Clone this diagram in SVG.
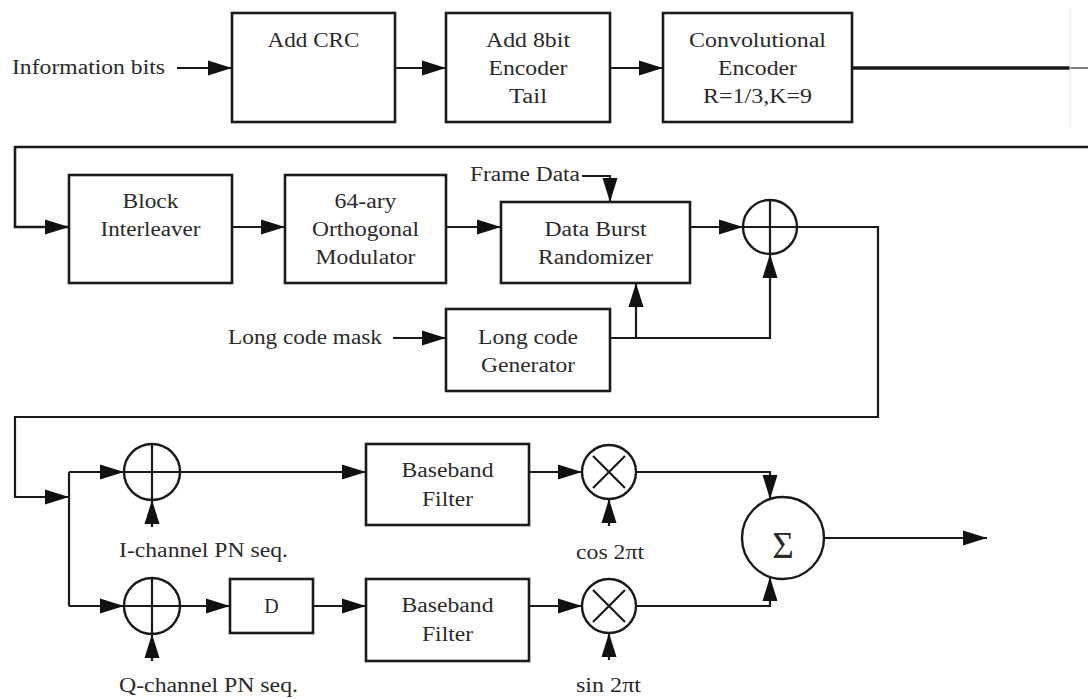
<svg xmlns="http://www.w3.org/2000/svg" width="1088" height="699" viewBox="0 0 1088 699">
<style>
.box{fill:#fff;stroke:#1a1a1a;stroke-width:2.6}
.cir{fill:#fff;stroke:#1a1a1a;stroke-width:2.4}
.ln{fill:none;stroke:#1a1a1a;stroke-width:2.2}
.t{font-family:"Liberation Serif","Times New Roman",serif;font-size:20px;fill:#2a2a2a}
.m{text-anchor:middle}
</style>
<defs>
<marker id="ah" markerUnits="userSpaceOnUse" markerWidth="24" markerHeight="16" refX="24" refY="8" orient="auto">
<path d="M0,0.5 L24,8 L0,15.5 z" fill="#111"/>
</marker>
</defs>
<rect width="1088" height="699" fill="#fff"/>

<g id="connectors">
<path class="ln" d="M177,68 H232" marker-end="url(#ah)"/>
<path class="ln" d="M395,68 H446" marker-end="url(#ah)"/>
<path class="ln" d="M610,68 H663" marker-end="url(#ah)"/>
<path class="ln" d="M852,68 H1070" style="stroke-width:3.5"/>
<path class="ln" d="M1070,68 H1088" style="stroke-width:1.5;stroke:#555"/>
<path class="ln" d="M1070,7 V127" style="stroke-width:1;stroke:#e2e2e2"/>
<path class="ln" d="M1088,147 H15 V227 H69" style="stroke-width:2.6" marker-end="url(#ah)"/>
<path class="ln" d="M232,227 H285" marker-end="url(#ah)"/>
<path class="ln" d="M446,227 H501" marker-end="url(#ah)"/>
<path class="ln" d="M582,176 H610 V202" marker-end="url(#ah)"/>
<path class="ln" d="M690,227 H743" marker-end="url(#ah)"/>
<path class="ln" d="M393,338 H446" marker-end="url(#ah)"/>
<path class="ln" d="M610,338 H770 V254" marker-end="url(#ah)"/>
<path class="ln" d="M636,338 V283" marker-end="url(#ah)"/>
<path class="ln" d="M797,227 H878 V417 H15 V497 H69" marker-end="url(#ah)"/>
<path class="ln" d="M69,472 V606"/>
<path class="ln" d="M69,472 H124" marker-end="url(#ah)"/>
<path class="ln" d="M69,606 H124" marker-end="url(#ah)"/>
<path class="ln" d="M152,527 V500" marker-end="url(#ah)"/>
<path class="ln" d="M152,661 V634" marker-end="url(#ah)"/>
<path class="ln" d="M180,472 H366" marker-end="url(#ah)"/>
<path class="ln" d="M180,606 H230" marker-end="url(#ah)"/>
<path class="ln" d="M313,606 H366" marker-end="url(#ah)"/>
<path class="ln" d="M529,472 H582" marker-end="url(#ah)"/>
<path class="ln" d="M529,606 H582" marker-end="url(#ah)"/>
<path class="ln" d="M609,526 V499" marker-end="url(#ah)"/>
<path class="ln" d="M609,660 V633" marker-end="url(#ah)"/>
<path class="ln" d="M636,472 H770 V499" marker-end="url(#ah)"/>
<path class="ln" d="M636,606 H770 V577" marker-end="url(#ah)"/>
<path class="ln" d="M824,538 H987" marker-end="url(#ah)"/>
</g>

<text class="t" x="12" y="74" textLength="153" lengthAdjust="spacingAndGlyphs">Information bits</text>
<text class="t" x="470" y="181" textLength="110" lengthAdjust="spacingAndGlyphs">Frame Data</text>
<text class="t" x="228" y="344" textLength="154" lengthAdjust="spacingAndGlyphs">Long code mask</text>
<text class="t" x="119" y="557" textLength="169" lengthAdjust="spacingAndGlyphs">I-channel PN seq.</text>
<text class="t" x="119" y="692" textLength="179" lengthAdjust="spacingAndGlyphs">Q-channel PN seq.</text>
<text class="t" x="576" y="559" textLength="68" lengthAdjust="spacingAndGlyphs">cos 2πt</text>
<text class="t" x="576" y="692" textLength="65" lengthAdjust="spacingAndGlyphs">sin 2πt</text>

<g id="n-crc">
<rect class="box" x="232" y="13" width="163" height="109"/>
<text class="t m" x="313.5" y="47" textLength="92" lengthAdjust="spacingAndGlyphs">Add CRC</text>
</g>
<g id="n-tail">
<rect class="box" x="446" y="13" width="164" height="109"/>
<text class="t m" x="528" y="47" textLength="84" lengthAdjust="spacingAndGlyphs">Add 8bit</text>
<text class="t m" x="528" y="75" textLength="79" lengthAdjust="spacingAndGlyphs">Encoder</text>
<text class="t m" x="528" y="103" textLength="38" lengthAdjust="spacingAndGlyphs">Tail</text>
</g>
<g id="n-conv">
<rect class="box" x="663" y="13" width="189" height="109"/>
<text class="t m" x="757.5" y="47" textLength="137" lengthAdjust="spacingAndGlyphs">Convolutional</text>
<text class="t m" x="757.5" y="75" textLength="79" lengthAdjust="spacingAndGlyphs">Encoder</text>
<text class="t m" x="757.5" y="103" textLength="109" lengthAdjust="spacingAndGlyphs">R=1/3,K=9</text>
</g>
<g id="n-block">
<rect class="box" x="69" y="175" width="163" height="108"/>
<text class="t m" x="150.5" y="208" textLength="56" lengthAdjust="spacingAndGlyphs">Block</text>
<text class="t m" x="150.5" y="236" textLength="100" lengthAdjust="spacingAndGlyphs">Interleaver</text>
</g>
<g id="n-mod">
<rect class="box" x="285" y="175" width="161" height="108"/>
<text class="t m" x="365.5" y="208" textLength="62" lengthAdjust="spacingAndGlyphs">64-ary</text>
<text class="t m" x="365.5" y="236" textLength="107" lengthAdjust="spacingAndGlyphs">Orthogonal</text>
<text class="t m" x="365.5" y="264" textLength="100" lengthAdjust="spacingAndGlyphs">Modulator</text>
</g>
<g id="n-dbr">
<rect class="box" x="501" y="202" width="189" height="81"/>
<text class="t m" x="595.5" y="236" textLength="102" lengthAdjust="spacingAndGlyphs">Data Burst</text>
<text class="t m" x="595.5" y="264" textLength="115" lengthAdjust="spacingAndGlyphs">Randomizer</text>
</g>
<g id="n-xor">
<circle class="cir" cx="770" cy="227" r="27"/>
<path class="ln" d="M743,227 H797 M770,200 V254"/>
</g>
<g id="n-lcg">
<rect class="box" x="446" y="309" width="164" height="82"/>
<text class="t m" x="528" y="344" textLength="100" lengthAdjust="spacingAndGlyphs">Long code</text>
<text class="t m" x="528" y="372" textLength="94" lengthAdjust="spacingAndGlyphs">Generator</text>
</g>
<g id="n-xor-i">
<circle class="cir" cx="152" cy="472" r="28"/>
<path class="ln" d="M124,472 H180 M152,444 V500"/>
</g>
<g id="n-xor-q">
<circle class="cir" cx="152" cy="606" r="28"/>
<path class="ln" d="M124,606 H180 M152,578 V634"/>
</g>
<g id="n-d">
<rect class="box" x="230" y="579" width="83" height="54"/>
<text class="t m" x="271.5" y="613">D</text>
</g>
<g id="n-bf1">
<rect class="box" x="366" y="444" width="163" height="81"/>
<text class="t m" x="447.5" y="477" textLength="92" lengthAdjust="spacingAndGlyphs">Baseband</text>
<text class="t m" x="447.5" y="506" textLength="51" lengthAdjust="spacingAndGlyphs">Filter</text>
</g>
<g id="n-bf2">
<rect class="box" x="366" y="579" width="163" height="82"/>
<text class="t m" x="447.5" y="612" textLength="92" lengthAdjust="spacingAndGlyphs">Baseband</text>
<text class="t m" x="447.5" y="641" textLength="51" lengthAdjust="spacingAndGlyphs">Filter</text>
</g>
<g id="n-mul-i">
<circle class="cir" cx="609" cy="472" r="27"/>
<path class="ln" d="M593,456 L625,488 M625,456 L593,488"/>
</g>
<g id="n-mul-q">
<circle class="cir" cx="609" cy="606" r="27"/>
<path class="ln" d="M593,590 L625,622 M625,590 L593,622"/>
</g>
<g id="n-sum">
<circle class="cir" cx="783" cy="538" r="41"/>
<text class="t m" x="783" y="558" style="font-size:37px">Σ</text>
</g>
</svg>
